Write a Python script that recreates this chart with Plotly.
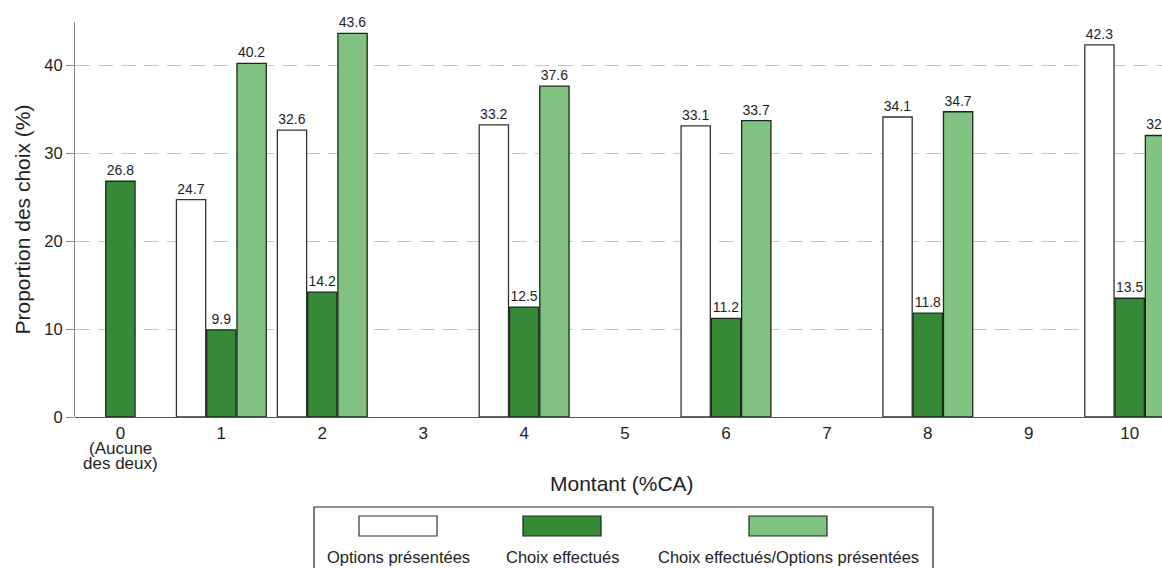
import plotly.graph_objects as go

categories = [0, 1, 2, 3, 4, 5, 6, 7, 8, 9, 10]
tick_labels = ["0", "1", "2", "3", "4", "5", "6", "7", "8", "9", "10"]
zero_note = ["(Aucune", "des deux)"]
options_presentees = [None, 24.7, 32.6, None, 33.2, None, 33.1, None, 34.1, None, 42.3]
choix_effectues = [26.8, 9.9, 14.2, None, 12.5, None, 11.2, None, 11.8, None, 13.5]
choix_sur_options = [None, 40.2, 43.6, None, 37.6, None, 33.7, None, 34.7, None, 32.0]

DARK = "#368936"
LIGHT = "#82c282"
FONT = "Liberation Sans, Arial, sans-serif"
TXT = "#1e1e1e"
W, H = 1162, 568
L, R, T, B = 75, 0, 22, 151
BW = 0.29
STEP = 0.30

fig = go.Figure()
series = [
    ("Options présentées", options_presentees, "white", "#333333", -STEP),
    ("Choix effectués", choix_effectues, DARK, "#1a2a1a", 0.0),
    ("Choix effectués/Options présentées", choix_sur_options, LIGHT, "#1a2a1a", STEP),
]
for name, vals, col, lcol, off in series:
    fig.add_trace(go.Bar(
        x=categories, y=vals, name=name,
        offset=off - BW / 2, width=BW,
        marker=dict(color=col, line=dict(color=lcol, width=1.3)),
        text=["" if v is None else f"{v:.1f}" for v in vals],
        textposition="outside",
        textfont=dict(size=14, color=TXT, family=FONT),
        cliponaxis=False, showlegend=False,
    ))

# manual legend (Stata style: key above label), in pixel -> paper coords
pw, ph = W - L - R, H - T - B
def px(x):
    return (x - L) / pw
def py(y):
    return (H - B - y) / ph

shapes = [dict(type="rect", xref="paper", yref="paper",
               x0=px(314), x1=px(933), y0=py(580), y1=py(507),
               line=dict(color="#222222", width=1.2), fillcolor="white", layer="below")]
annotations = []
keys = [(398, "white", "#333333", "Options présentées"),
        (562, DARK, "#1a2a1a", "Choix effectués"),
        (788, LIGHT, "#1a2a1a", "Choix effectués/Options présentées")]
for cx, col, lcol, label in keys:
    shapes.append(dict(type="rect", xref="paper", yref="paper",
                       x0=px(cx - 39), x1=px(cx + 39), y0=py(536), y1=py(516),
                       line=dict(color=lcol, width=1.2), fillcolor=col))
    annotations.append(dict(xref="paper", yref="paper", x=px(cx), y=py(557),
                            text=label, showarrow=False, xanchor="center", yanchor="middle",
                            font=dict(size=16.5, color=TXT, family=FONT)))

# sub-label of category 0 (tight line spacing)
for i, line in enumerate(zero_note):
    annotations.append(dict(xref="x", yref="paper", x=categories[0], y=py(448 + 15 * i),
                            text=line, showarrow=False, xanchor="center", yanchor="middle",
                            font=dict(size=17, color=TXT, family=FONT)))

# axis titles
annotations.append(dict(xref="paper", yref="paper", x=px(622), y=py(483),
                        text="Montant (%CA)", showarrow=False, xanchor="center", yanchor="middle",
                        font=dict(size=21, color=TXT, family=FONT)))
annotations.append(dict(xref="paper", yref="paper", x=px(22), y=0.5,
                        text="Proportion des choix (%)", showarrow=False, textangle=-90,
                        xanchor="center", yanchor="middle",
                        font=dict(size=21, color=TXT, family=FONT)))

fig.update_layout(
    width=W, height=H,
    margin=dict(l=L, r=R, t=T, b=B, autoexpand=False),
    plot_bgcolor="white", paper_bgcolor="white",
    barmode="overlay",
    font=dict(family=FONT, color=TXT),
    shapes=shapes, annotations=annotations,
    xaxis=dict(
        range=[-0.45, 10.32], tickmode="array", tickvals=categories, ticktext=tick_labels,
        showgrid=False, zeroline=False, showline=False,
        ticks="outside", ticklen=1, tickcolor="rgba(0,0,0,0)", automargin=False,
        tickfont=dict(size=17, family=FONT, color=TXT),
    ),
    yaxis=dict(
        range=[0, 44.9], tickvals=[0, 10, 20, 30, 40], automargin=False,
        showgrid=True, gridcolor="#c8c8c8", griddash="15px,8px", gridwidth=1,
        zeroline=True, zerolinecolor="#555555", zerolinewidth=1.2,
        showline=True, linecolor="#888888", linewidth=1.2,
        ticks="outside", ticklen=8, tickcolor="#888888",
        tickfont=dict(size=16.5, family=FONT, color=TXT),
    ),
)

fig.write_html("out.html", config={"displayModeBar": False},
               post_script="document.body.style.margin='0';")
